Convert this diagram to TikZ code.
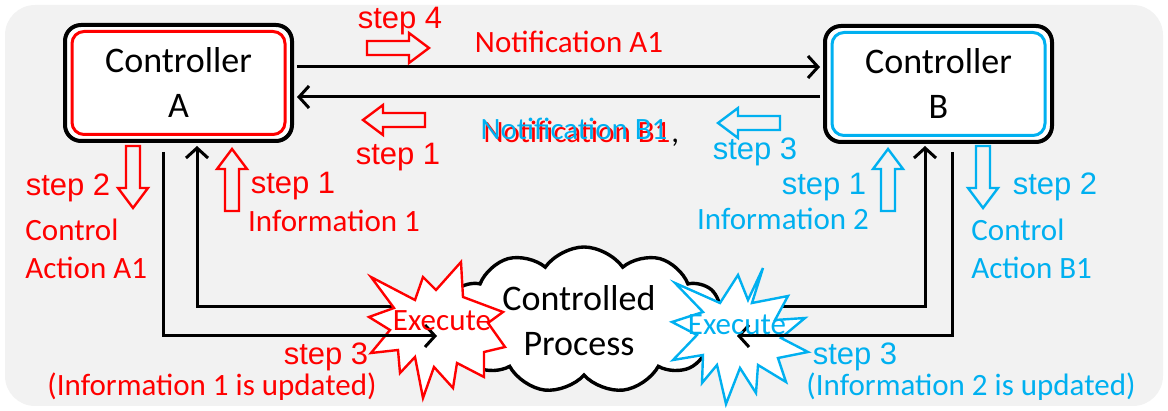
\documentclass[tikz,border=0pt]{standalone}
\usepackage{fontspec}
\setmainfont{Carlito}
\newfontfamily\stepfont{Liberation Sans}
\usetikzlibrary{arrows.meta,shapes.symbols,calc}
\definecolor{bgray}{HTML}{F2F2F2}
\definecolor{cblue}{HTML}{00B0F0}
\definecolor{cred}{HTML}{FF0000}

\tikzset{
  ctrlbox/.style={draw=black, line width=2pt, fill=white, rounded corners=8pt,
    minimum width=113.5pt, minimum height=58pt, inner sep=0pt, outer sep=2.5pt,
    align=center, font=\fontsize{18}{22.5}\selectfont},
  innerframe/.style={line width=1.5pt, rounded corners=6pt},
  conn/.style={line width=1.5pt, draw=black},
  tip/.style={-{Straight Barb[length=5pt,width=11pt]}},
  lbl/.style={font=\fontsize{15.5}{19}\selectfont, inner sep=0pt},
  steplbl/.style={font=\stepfont\fontsize{15.5}{19}\selectfont, inner sep=0pt},
  exec/.style={font=\fontsize{15.5}{18}\selectfont, inner sep=0pt},
  burst/.style={line width=1.2pt, fill=white, line join=miter},
  hollow/.style={line width=1.2pt, line join=miter},
  pics/hollowarrow/.style={code={
    \draw[hollow,draw=#1] (-31,-7) -- (11,-7) -- (11,-15) -- (31,0)
      -- (11,15) -- (11,7) -- (-31,7) -- cycle;}},
}

\begin{document}
\begin{tikzpicture}[x=0.5pt, y=-0.5pt]
\useasboundingbox (0,0) rectangle (1168,411);
% panel
\fill[bgray, rounded corners=15pt] (5,5) rectangle (1163,406);

% controlled process
\node[cloud, draw, line width=1.7pt, fill=white, cloud puffs=11, cloud puff arc=110,
      aspect=1.9, minimum width=140pt, minimum height=73pt, inner sep=0pt,
      align=center, font=\fontsize{18}{22.5}\selectfont] (proc) at (584,320)
      {};
\node[align=center, inner sep=0pt, font=\fontsize{18}{22.5}\selectfont] (proctext) at (579,321)
      {Controlled\\Process};

% feedback paths and anchor points
\coordinate (A-out) at (163,152);
\coordinate (A-in) at (197,146);
\coordinate (A-exec) at (437,336);
\coordinate (A-star) at (430,307);
\coordinate (B-in) at (925,146);
\coordinate (B-out) at (952,152);
\coordinate (B-exec) at (737,336);
\coordinate (B-star) at (745,307);

\draw[conn,tip] (A-star) -| (A-in);
\draw[conn,tip] (B-star) -| (B-in);

% execution bursts
\draw[burst, draw=cred, shift={(437,330)}]
  (24,-68) -- (26,-33) -- (66,-18) -- (51,-7) -- (68,17) -- (47,22)
  -- (47,47) -- (20,33) -- (16,58) -- (-3,37) -- (-14,68) -- (-22,27)
  -- (-37,43) -- (-39,20) -- (-66,23) -- (-47,0) -- (-68,-13) -- (-43,-22)
  -- (-66,-53) -- (-22,-30) -- (-14,-53) -- (-1,-40) -- cycle;
\draw[burst, draw=cblue, shift={(737,333)}]
  (26,-65) -- (15,-30) -- (51,-37) -- (38,-13) -- (68,-15) -- (44,5)
  -- (71,19) -- (41,25) -- (49,49) -- (21,32) -- (19,60) -- (3,35)
  -- (-11,71) -- (-20,32) -- (-35,50) -- (-34,22) -- (-64,27) -- (-40,2)
  -- (-65,-11) -- (-34,-21) -- (-62,-50) -- (-17,-30) -- (1,-58) -- (11,-33)
  -- cycle;

\draw[conn,tip] (A-out) |- (A-exec);
\draw[conn,tip] (B-out) |- (B-exec);

\node[exec, text=cred] (execA) at (442,321) {Execute};
\node[exec, text=cblue] (execB) at (737,325) {Execute};

% controllers
\node[ctrlbox] (A) at (178.5,83) {Controller\\A};
\draw[innerframe, draw=cred] ($(A.center)+(-53.25pt,25.75pt)$) rectangle ($(A.center)+(53.25pt,-25.75pt)$);
\node[ctrlbox] (B) at (938.5,84) {Controller\\B};
\draw[innerframe, draw=cblue] ($(B.center)+(-53.25pt,25.75pt)$) rectangle ($(B.center)+(53.25pt,-25.75pt)$);

\coordinate (topline) at (560,67);
\coordinate (botline) at (560,97);
\draw[conn,tip] (A.east |- topline) -- (B.west |- topline);
\draw[conn,tip] (B.west |- botline) -- (A.east |- botline);

% step markers
\pic at (398,48) {hollowarrow=cred};
\pic[rotate=180] at (394,120) {hollowarrow=cred};
\pic[rotate=180] at (749,123) {hollowarrow=cblue};
\pic[rotate=-90] at (133,177) {hollowarrow=cred};
\pic[rotate=90] at (232,180) {hollowarrow=cred};
\pic[rotate=90] at (888,180) {hollowarrow=cblue};
\pic[rotate=-90] at (983,177) {hollowarrow=cblue};

% labels
\node[steplbl, text=cred] (s4) at (400,21) {step 4};
\node[lbl, text=cred] (notA) at (569,42) {Notification A1};
\node[steplbl, text=cred] (s1top) at (398,157) {step 1};
\node[lbl, text=cred] (notBr) at (577,132) {Notification B1};
\node[lbl, text=cblue] (notBb) at (574,129) {Notification B1};
\node[lbl, anchor=base west] (comma) at (notBr.base east) {,};
\node[steplbl, text=cblue] (s3top) at (755,152) {step 3};

\node[steplbl, text=cred] (s2A) at (68,188) {step 2};
\node[lbl, text=cred, align=left, anchor=west] (caA) at (25,249) {Control\\Action A1};
\node[steplbl, text=cred] (s1A) at (293,186) {step 1};
\node[lbl, text=cred] (infA) at (334,221) {Information 1};

\node[steplbl, text=cblue] (s1B) at (824,187) {step 1};
\node[lbl, text=cblue] (infB) at (783,219) {Information 2};
\node[steplbl, text=cblue] (s2B) at (1055,187) {step 2};
\node[lbl, text=cblue, align=left, anchor=west] (caB) at (971,249) {Control\\Action B1};

\node[steplbl, text=cred] (s3A) at (326,357) {step 3};
\node[lbl, text=cred] (updA) at (212,387) {(Information 1 is updated)};
\node[steplbl, text=cblue] (s3B) at (855,357) {step 3};
\node[lbl, text=cblue] (updB) at (971,387) {(Information 2 is updated)};
\end{tikzpicture}
\end{document}
